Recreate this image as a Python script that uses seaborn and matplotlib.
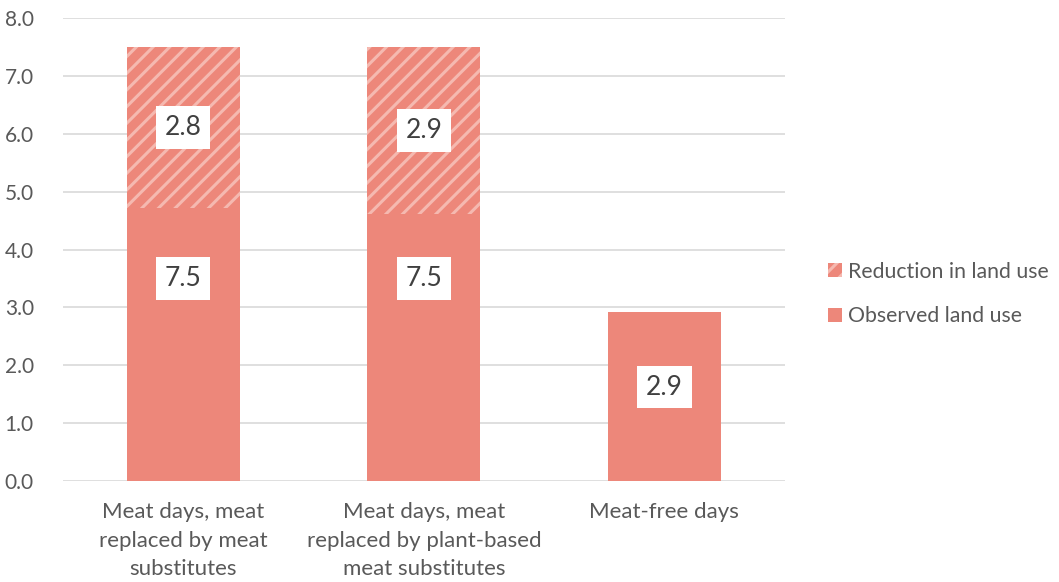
import matplotlib
matplotlib.use("Agg")
import matplotlib.pyplot as plt
import seaborn as sns
import pandas as pd
from matplotlib.patches import Patch

categories = [
    "Meat days, meat\nreplaced by meat\nsubstitutes",
    "Meat days, meat\nreplaced by plant-based\nmeat substitutes",
    "Meat-free days",
]
observed = [4.72, 4.61, 2.92]
reduction = [2.78, 2.89, 0.0]
observed_labels = ["7.5", "7.5", "2.9"]
reduction_labels = ["2.8", "2.9", None]

sns.set_theme(style="white")
plt.rcParams["font.family"] = ["Lato", "DejaVu Sans"]
plt.rcParams["hatch.linewidth"] = 2.2

bar_color = "#ed877a"
hatch_color = "#f5b9b0"
text_color = "#595959"

df = pd.DataFrame({
    "category": categories,
    "observed": observed,
    "total": [o + r for o, r in zip(observed, reduction)],
})

fig = plt.figure(figsize=(10.59, 5.82), dpi=100)
ax = fig.add_axes([0.0595, 0.1735, 0.6815, 0.7955])

# hatched total behind, solid observed on top
sns.barplot(data=df, x="category", y="total", ax=ax, color=bar_color,
            width=0.47, saturation=1, edgecolor=hatch_color, linewidth=0,
            hatch="//")
sns.barplot(data=df, x="category", y="observed", ax=ax, color=bar_color,
            width=0.47, saturation=1, linewidth=0)

ax.set_ylim(0, 8)
ax.set_yticks(range(0, 9))
ax.set_yticklabels([f"{v:.1f}" for v in range(0, 9)])
ax.set_xlabel("")
ax.set_ylabel("")
ax.grid(axis="y", color="#d9d9d9", linewidth=1.2)
ax.set_axisbelow(True)
for s in ax.spines.values():
    s.set_visible(False)
ax.tick_params(axis="y", labelsize=15, labelcolor=text_color, pad=21, length=0)
ax.tick_params(axis="x", labelsize=16, labelcolor=text_color, pad=15, length=0)
for t in ax.get_xticklabels():
    t.set_linespacing(1.55)

box = dict(boxstyle="square,pad=0.33", facecolor="white", edgecolor="none")
obs_label_y = [3.5, 3.5, 1.62]
for i in range(len(categories)):
    ax.text(i, obs_label_y[i], observed_labels[i], ha="center", va="center",
            fontsize=19, color="#404040", bbox=box)
    if reduction_labels[i]:
        ax.text(i, observed[i] + reduction[i] * 0.5, reduction_labels[i],
                ha="center", va="center", fontsize=19, color="#404040", bbox=box)

handles = [
    Patch(facecolor=bar_color, edgecolor=hatch_color, linewidth=0, hatch="//",
          label="Reduction in land use"),
    Patch(facecolor=bar_color, linewidth=0, label="Observed land use"),
]
leg = fig.legend(handles=handles, loc="center left", bbox_to_anchor=(0.764, 0.495),
                 frameon=False, fontsize=15.3, handlelength=0.65, handleheight=0.65,
                 handletextpad=0.3, labelspacing=1.15)
for t in leg.get_texts():
    t.set_color(text_color)

fig.savefig("out.png", dpi=100)
